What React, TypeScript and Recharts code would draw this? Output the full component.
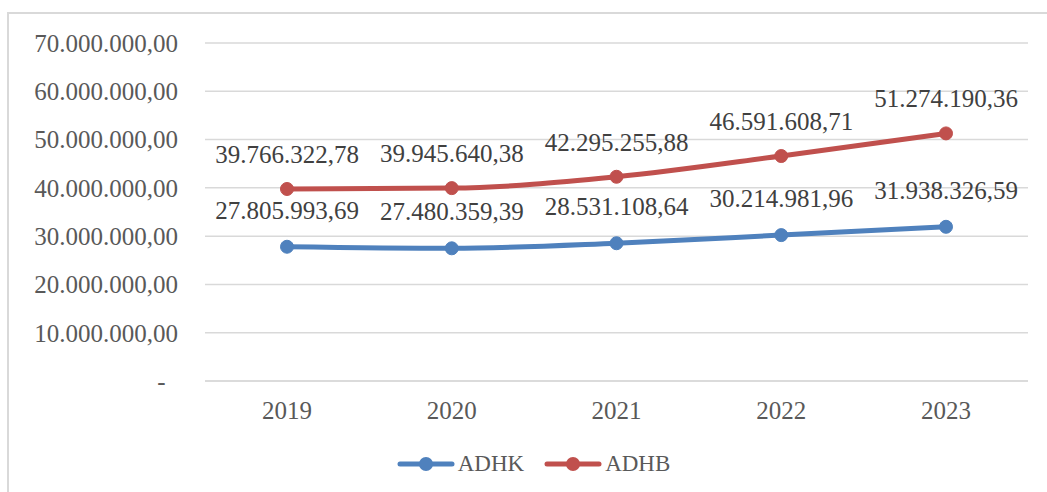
import React from 'react';
import { LineChart, Line, XAxis, YAxis, CartesianGrid, LabelList } from 'recharts';

const years = ['2019', '2020', '2021', '2022', '2023'];
const adhk = [27805993.69, 27480359.39, 28531108.64, 30214981.96, 31938326.59];
const adhb = [39766322.78, 39945640.38, 42295255.88, 46591608.71, 51274190.36];
const yTicks = [0, 10000000, 20000000, 30000000, 40000000, 50000000, 60000000, 70000000];

const BLUE = '#4F81BD';
const RED = '#C0504D';
const FONT = '"Liberation Serif", serif';

const data = years.map((year, i) => ({ year, ADHK: adhk[i], ADHB: adhb[i] }));

// Indonesian style number: 1.234.567,89
const fmt = (v: number) => {
  const [int, dec] = v.toFixed(2).split('.');
  return int.replace(/\B(?=(\d{3})+(?!\d))/g, '.') + ',' + dec;
};

const LegendBox = () => (
  <div style={{ position: 'absolute', left: 0, top: 451, width: 1047, display: 'flex', justifyContent: 'center', paddingLeft: 40, boxSizing: 'border-box', color: '#595959' }}>
    {[{ name: 'ADHK', color: BLUE }, { name: 'ADHB', color: RED }].map((item) => (
      <div key={item.name} style={{ display: 'flex', alignItems: 'center', marginRight: 20 }}>
        <svg width={58} height={16} style={{ marginRight: 3 }}>
          <line x1={3} y1={8} x2={55} y2={8} stroke={item.color} strokeWidth={5} strokeLinecap="round" />
          <circle cx={29} cy={8} r={7} fill={item.color} />
        </svg>
        <span style={{ fontFamily: FONT, fontSize: 23 }}>{item.name}</span>
      </div>
    ))}
  </div>
);

const App = () => {
  return (
    <div style={{ position: 'absolute', left: 0, top: 0, width: 1047, height: 492, overflow: 'hidden', background: '#fff' }}>
      <div style={{ position: 'absolute', left: 7, top: 12, width: 1200, height: 600, border: '2px solid #d9d9d9' }} />
      <div style={{ position: 'absolute', left: 0, top: 0 }}>
        <LineChart width={1047} height={492} data={data} margin={{ top: 43, right: 19, left: 0, bottom: 81 }}>
          <CartesianGrid vertical={false} stroke="#d9d9d9" strokeWidth={1.5} />
          <XAxis
            dataKey="year"
            padding={{ left: 82, right: 82 }}
            axisLine={{ stroke: '#d9d9d9', strokeWidth: 1.5 }}
            tickLine={false}
            tickSize={0}
            tickMargin={20}
            tick={{ fontSize: 25, fill: '#595959', fontFamily: FONT }}
          />
          <YAxis
            width={205}
            domain={[0, 70000000]}
            ticks={yTicks}
            interval={0}
            axisLine={false}
            tickLine={false}
            tickSize={0}
            tickMargin={27}
            tick={{ fontSize: 25, fill: '#595959', fontFamily: FONT }}
            tickFormatter={(v: number) => (v === 0 ? '-\u00A0\u00A0' : fmt(v))}
          />
          <Line
            type="monotone"
            dataKey="ADHK"
            stroke={BLUE}
            strokeWidth={5}
            dot={{ r: 6.5, fill: BLUE, stroke: BLUE, strokeWidth: 1 }}
            isAnimationActive={false}
          >
            <LabelList dataKey="ADHK" position="top" offset={28} formatter={(v: number) => fmt(v)} style={{ fontSize: 25, fill: '#404040', fontFamily: FONT }} />
          </Line>
          <Line
            type="monotone"
            dataKey="ADHB"
            stroke={RED}
            strokeWidth={5}
            dot={{ r: 6.5, fill: RED, stroke: RED, strokeWidth: 1 }}
            isAnimationActive={false}
          >
            <LabelList dataKey="ADHB" position="top" offset={26} formatter={(v: number) => fmt(v)} style={{ fontSize: 25, fill: '#404040', fontFamily: FONT }} />
          </Line>
        </LineChart>
      </div>
      <LegendBox />
    </div>
  );
};

export default App;
